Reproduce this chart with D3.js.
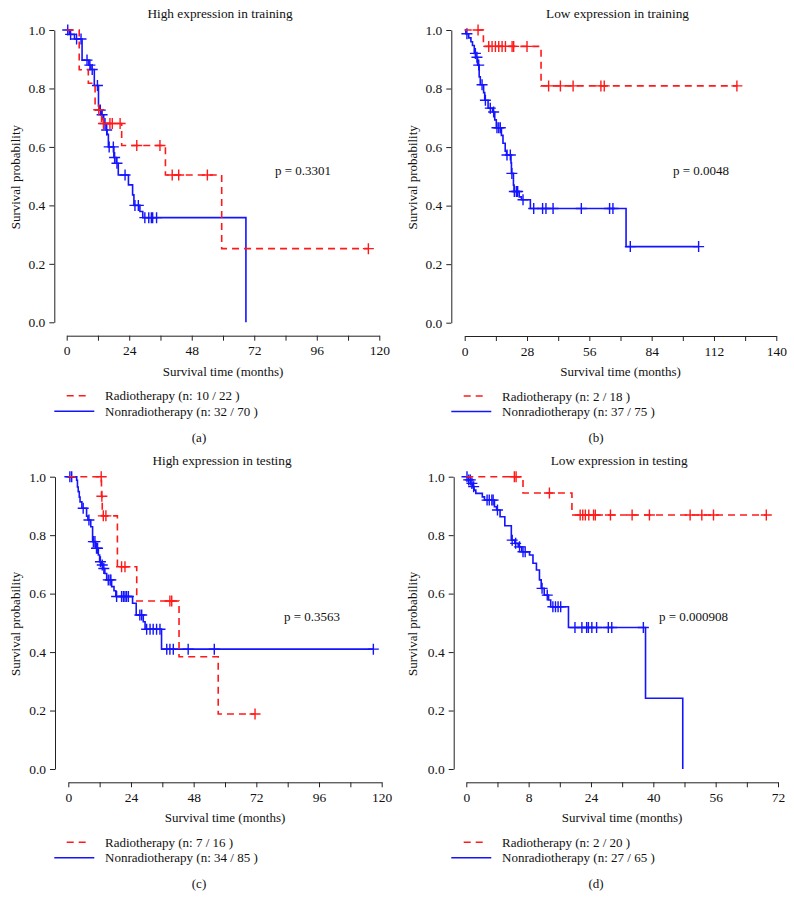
<!DOCTYPE html>
<html><head><meta charset="utf-8">
<script src="https://cdn.jsdelivr.net/npm/d3@7/dist/d3.min.js"></script>
<style>
body{margin:0;background:#fff}
text{font-family:"Liberation Serif","DejaVu Serif",serif;fill:#111}
</style>
</head><body>
<svg id="chart" width="794" height="910"></svg>
<script>
// ---------- data ----------
const yTicks = [0, 0.2, 0.4, 0.6, 0.8, 1.0];

// (a) High expression in training
const aTitle = "High expression in training";
const aPval = "p = 0.3301";
const aXTicks = [0,12,24,36,48,60,72,84,96,108,120];
const aXLabels = ["0","","24","","48","","72","","96","","120"];
const aRadT = [0, 4.8, 8.3, 10.9, 13.4, 21.1, 37.9, 59.5];
const aRadS = [1, 0.864, 0.818, 0.727, 0.68, 0.605, 0.504, 0.252];
const aRadC = [12.3, 14.1, 16.6, 17.5, 20.5, 26.9, 35.8, 40.5, 43.0, 54.0, 115.8];
const aRadEnd = 115.8;
const aNonT = [0,1.0,3.0,5.9,8.5,9.3,10.6,12.2,12.6,13.3,14.2,15.2,15.5,16.0,18.1,19.0,19.8,23.7,25.3,25.8,28.1,29.2,68.8];
const aNonS = [1,0.985,0.969,0.897,0.88,0.865,0.81,0.74,0.726,0.71,0.68,0.658,0.643,0.60,0.564,0.544,0.504,0.47,0.436,0.40,0.379,0.358,0];
const aNonC = [0.4,1.5,3.8,5.5,7.8,8.9,9.8,11.8,12.9,13.6,14.7,15.35,16.3,17.9,18.4,19.3,22.4,26.2,27.5,30,31.5,32.5,33,34.5];
const aNonEnd = 68.8;
const aLegend = ["Radiotherapy (n: 10 / 22 )", "Nonradiotherapy (n: 32 / 70 )"];

// (b) Low expression in training
const bTitle = "Low expression in training";
const bPval = "p = 0.0048";
const bXTicks = [0,14,28,42,56,70,84,98,112,126,140];
const bXLabels = ["0","","28","","56","","84","","112","","140"];
const bRadT = [0, 8.4, 34.3];
const bRadS = [1, 0.944, 0.809];
const bRadC = [6.0,10.8,12.3,13.8,15.3,16.8,18.3,21.3,22.0,28.0,37.7,43.0,48.7,61.2,62.7,122.3];
const bRadEnd = 122.3;
const bNonT = [0,0.5,1.8,2.8,3.5,4.3,5.0,5.8,6.5,7.0,8.5,9.0,10.5,12.5,13.5,14.2,16.5,17.2,18.2,18.8,20.8,21.0,21.9,22.2,24.5,25.5,29.5,72.5];
const bNonS = [1,0.987,0.973,0.96,0.947,0.92,0.907,0.88,0.84,0.813,0.786,0.76,0.733,0.72,0.693,0.666,0.64,0.613,0.586,0.573,0.546,0.51,0.47,0.448,0.43,0.42,0.39,0.26];
const bNonC = [1.0,4.8,5.5,6.3,7.8,9.3,11.5,13.0,14.5,15.3,16.0,19.0,20.5,21.2,22.3,23.2,23.8,26.2,31,35,36.5,39.7,52.4,65.1,66.6,74.4,105.1];
const bNonEnd = 105.1;
const bLegend = ["Radiotherapy (n: 2 / 18 )", "Nonradiotherapy (n: 37 / 75 )"];

// (c) High expression in testing
const cTitle = "High expression in testing";
const cPval = "p = 0.3563";
const cXTicks = [0,12,24,36,48,60,72,84,96,108,120];
const cXLabels = ["0","","24","","48","","72","","96","","120"];
const cRadT = [0, 12.7, 13.0, 18.8, 26.2, 42.4, 57.4];
const cRadS = [1, 0.933, 0.866, 0.692, 0.575, 0.384, 0.188];
const cRadC = [12.6, 12.85, 13.4, 14.4, 20.4, 21.7, 38.9, 39.6, 71.5];
const cRadEnd = 71.5;
const cNonT = [0,3.2,3.5,3.8,4.2,4.5,5.2,7.0,7.5,8.6,9.3,10.5,11.5,12.0,12.6,13.2,14.0,14.7,16.6,17.5,18.2,24.6,26.0,28.7,29.4,35.7];
const cNonS = [1,0.988,0.965,0.949,0.93,0.914,0.892,0.865,0.852,0.829,0.778,0.755,0.732,0.709,0.698,0.686,0.669,0.647,0.624,0.61,0.59,0.567,0.527,0.504,0.478,0.41];
const cNonC = [0.6,1.3,5.7,7.9,9.6,10.2,10.8,11.2,12.3,13.0,13.6,15.3,16.0,16.3,18.5,20.4,21.1,21.7,22.3,23.0,27.4,28.1,30,31.3,32.5,33.8,35.1,37.7,38.9,40.2,45.9,55.9,116.8];
const cNonEnd = 116.8;
const cLegend = ["Radiotherapy (n: 7 / 16 )", "Nonradiotherapy (n: 34 / 85 )"];

// (d) Low expression in testing
const dTitle = "Low expression in testing";
const dPval = "p = 0.000908";
const dXTicks = [0,7.2,14.4,21.6,28.8,36,43.2,50.4,57.6,64.8,72];
const dXLabels = ["0","","8","","24","","40","","56","","72"];
const dRadT = [0, 13.1, 24.4];
const dRadS = [1, 0.944, 0.869];
const dRadC = [11.1,11.5,19.2,26.3,26.9,27.5,28.3,29.4,29.8,33.3,38.3,42.3,51.7,54.4,57.1,69.3];
const dRadEnd = 69.3;
const dNonT = [0,0.5,1.0,1.4,1.8,2.2,3.7,4.2,6.5,7.0,7.8,8.9,10.4,11.2,12.0,12.8,14.6,15.4,16.2,16.9,17.3,18.0,19.0,19.5,23.6,41.4,50.0];
const dNonS = [1,0.989,0.977,0.966,0.954,0.943,0.931,0.92,0.897,0.886,0.863,0.832,0.783,0.772,0.760,0.743,0.732,0.704,0.681,0.647,0.618,0.595,0.578,0.555,0.484,0.242,0];
const dNonC = [0.16,0.55,0.93,1.3,1.7,4.8,5.3,5.9,6.2,7.2,10.6,11.4,12.3,13.1,13.6,17.5,18.7,20.0,20.6,21.2,21.8,25.1,26.7,27.8,28.2,29.0,30.1,32.8,33.6,40.9];
const dNonEnd = 50.0;
const dLegend = ["Radiotherapy (n: 2 / 20 )", "Nonradiotherapy (n: 27 / 65 )"];

// ---------- layout ----------
const RED = "#ff1a1a", BLUE = "#1414ff";
const panels = [
  {tag:"(a)", title:aTitle, p:aPval, xt:aXTicks, xl:aXLabels, xd:[0,120], ox:0, oy:0,
   xr:[66.7,379.3], yr:[322.3,30], yAxX:54.3, xAxY:335.7, pX:275, pY:175,
   rad:[aRadT,aRadS,aRadC,aRadEnd], non:[aNonT,aNonS,aNonC,aNonEnd], leg:aLegend},
  {tag:"(b)", title:bTitle, p:bPval, xt:bXTicks, xl:bXLabels, xd:[0,140], ox:397, oy:0,
   xr:[464.7,776.3], yr:[322.7,30], yAxX:451.3, xAxY:336, pX:673, pY:175,
   rad:[bRadT,bRadS,bRadC,bRadEnd], non:[bNonT,bNonS,bNonC,bNonEnd], leg:bLegend},
  {tag:"(c)", title:cTitle, p:cPval, xt:cXTicks, xl:cXLabels, xd:[0,120], ox:0, oy:447,
   xr:[68.3,381.7], yr:[769,476.7], yAxX:55, xAxY:782.3, pX:284, pY:621,
   rad:[cRadT,cRadS,cRadC,cRadEnd], non:[cNonT,cNonS,cNonC,cNonEnd], leg:cLegend},
  {tag:"(d)", title:dTitle, p:dPval, xt:dXTicks, xl:dXLabels, xd:[0,72], ox:397, oy:447,
   xr:[466.3,778], yr:[769,476.7], yAxX:453.7, xAxY:782.3, pX:659, pY:621,
   rad:[dRadT,dRadS,dRadC,dRadEnd], non:[dNonT,dNonS,dNonC,dNonEnd], leg:dLegend}
];

const svg = d3.select("#chart");
const FS = 13;
const TFS = 13.5;

function survAt(T, S, t){
  let s = S[0];
  for (let i=0;i<T.length;i++){ if (T[i] <= t) s = S[i]; }
  return s;
}

panels.forEach(P => {
  const g = svg.append("g");
  const x = d3.scaleLinear().domain(P.xd).range(P.xr);
  const y = d3.scaleLinear().domain([0,1]).range(P.yr);
  const cx = (P.xr[0]+P.xr[1])/2;

  // axes
  const ya = g.append("g").attr("transform",`translate(${P.yAxX},0)`)
    .call(d3.axisLeft(y).tickValues(yTicks).tickFormat(d3.format(".1f")).tickSize(5).tickSizeOuter(0).tickPadding(4));
  const xa = g.append("g").attr("transform",`translate(0,${P.xAxY})`)
    .call(d3.axisBottom(x).tickValues(P.xt).tickFormat((d,i)=>P.xl[i]).tickSize(5).tickSizeOuter(0).tickPadding(5));
  [ya,xa].forEach(a=>{
    a.selectAll("path,line").attr("stroke","#222").attr("stroke-width",1);
    a.selectAll("text").attr("font-family","Liberation Serif, serif").attr("font-size",TFS).attr("fill","#111");
  });

  // title
  g.append("text").attr("x",cx-3).attr("y",P.oy+18).attr("text-anchor","middle").attr("font-size",13.3).text(P.title);
  // y label
  g.append("text").attr("transform",`translate(${P.ox+19.5},${(P.yr[0]+P.yr[1])/2+1}) rotate(-90)`)
    .attr("text-anchor","middle").attr("font-size",FS).text("Survival probability");
  // x label
  g.append("text").attr("x",cx).attr("y",P.xAxY+40).attr("text-anchor","middle").attr("font-size",FS).text("Survival time (months)");
  // p value
  g.append("text").attr("x",P.pX).attr("y",P.pY).attr("font-size",FS).text(P.p);

  // curves
  const line = d3.line().x(d=>x(d[0])).y(d=>y(d[1])).curve(d3.curveStepAfter);
  [[P.non,BLUE,null],[P.rad,RED,"7,5"]].forEach(([ser,col,dash])=>{
    const [T,S,C,end] = ser;
    const pts = T.map((t,i)=>[t,S[i]]);
    if (end > T[T.length-1]) pts.push([end, S[S.length-1]]);
    const pth = g.append("path").datum(pts).attr("d",line).attr("fill","none")
      .attr("stroke",col).attr("stroke-width",1.6);
    if (dash) pth.attr("stroke-dasharray",dash);
    g.append("g").selectAll("path").data(C).join("path")
      .attr("d",t=>{const px=x(t), py=y(survAt(T,S,t)); return `M${px-5.5},${py}h11M${px},${py-5.5}v11`;})
      .attr("stroke",col).attr("stroke-width",1.4).attr("fill","none");
  });

  // legend
  const lx = P.ox;
  const l1 = P.xAxY+60, l2 = P.xAxY+75.5;
  g.append("line").attr("x1",lx+66.7).attr("x2",lx+86).attr("y1",l1).attr("y2",l1)
    .attr("stroke",RED).attr("stroke-width",1.5).attr("stroke-dasharray","7,5");
  g.append("line").attr("x1",lx+54.3).attr("x2",lx+94.3).attr("y1",l2).attr("y2",l2)
    .attr("stroke",BLUE).attr("stroke-width",1.5);
  g.append("text").attr("x",lx+105).attr("y",l1+4.5).attr("font-size",FS).text(P.leg[0]);
  g.append("text").attr("x",lx+105).attr("y",l2+4.5).attr("font-size",FS).text(P.leg[1]);
  // tag
  g.append("text").attr("x",lx+199).attr("y",P.xAxY+106).attr("text-anchor","middle").attr("font-size",FS).text(P.tag);
});
</script>
</body></html>
